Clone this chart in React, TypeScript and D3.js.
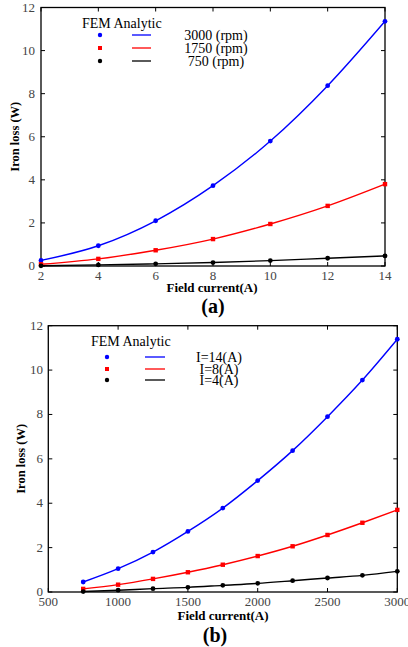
import React from 'react';
import * as d3 from 'd3';

// panel (a): iron loss vs field current at three speeds
const currentA = [2, 4, 6, 8, 10, 12, 14];
const loss3000 = [0.26, 0.94, 2.1, 3.73, 5.8, 8.37, 11.36];
const loss1750 = [0.08, 0.33, 0.73, 1.25, 1.95, 2.79, 3.8];
const loss750 = [0.01, 0.05, 0.1, 0.16, 0.25, 0.36, 0.47];
const speedLabels = ['3000 (rpm)', '1750 (rpm)', '750 (rpm)'];
const xTicksA = [2, 4, 6, 8, 10, 12, 14];

// panel (b): iron loss vs speed at three currents
const speedB = [750, 1000, 1250, 1500, 1750, 2000, 2250, 2500, 2750, 3000];
const lossI14 = [0.45, 1.05, 1.8, 2.73, 3.78, 5.02, 6.37, 7.9, 9.55, 11.39];
const lossI8 = [0.14, 0.33, 0.59, 0.89, 1.23, 1.62, 2.06, 2.57, 3.12, 3.7];
const lossI4 = [0.02, 0.08, 0.15, 0.21, 0.3, 0.39, 0.51, 0.63, 0.75, 0.93];
const currentLabels = ['I=14(A)', 'I=8(A)', 'I=4(A)'];
const xTicksB = [500, 1000, 1500, 2000, 2500, 3000];

const yTicks = [0, 2, 4, 6, 8, 10, 12];
const colors = ['#0000ff', '#ff0000', '#000000'];
const markerShapes = ['circle', 'square', 'circle'];

const font = '"Liberation Serif", "Times New Roman", serif';

type PanelProps = {
  top: number; left: number; right: number; bottom: number;
  xDomain: [number, number]; xTicks: number[];
  xs: number[]; series: number[][]; labels: string[];
  yLabelX: number; tickLabelRight: number;
  legend: { titleX: number; titleY: number; markX: number; rowY: number[]; lineX: [number, number]; textX: number };
  xTitleX: number; xTitleY: number; capX: number; capY: number; caption: string;
};

const Panel = (p: PanelProps) => {
  const x = d3.scaleLinear().domain(p.xDomain).range([p.left, p.right]);
  const y = d3.scaleLinear().domain([0, 12]).range([p.bottom, p.top]);
  const line = d3.line<number>()
    .x((_, i) => x(p.xs[i]))
    .y(d => y(d))
    .curve(d3.curveMonotoneX);
  const tk = 4;
  return (
    <g>
      {/* frame */}
      <rect x={p.left} y={p.top} width={p.right - p.left} height={p.bottom - p.top}
        fill="none" stroke="#000" strokeWidth={1.3} />
      {/* ticks all four sides, inward */}
      {p.xTicks.map(t => (
        <g key={'xt' + t}>
          <line x1={x(t)} x2={x(t)} y1={p.bottom} y2={p.bottom - tk} stroke="#000" />
          <line x1={x(t)} x2={x(t)} y1={p.top} y2={p.top + tk} stroke="#000" />
          <text x={x(t)} y={p.bottom + 13.5} textAnchor="middle" fontSize={13}
            fontFamily={font} fill="#444">{t}</text>
        </g>
      ))}
      {yTicks.map(t => (
        <g key={'yt' + t}>
          <line x1={p.left} x2={p.left + tk} y1={y(t)} y2={y(t)} stroke="#000" />
          <line x1={p.right} x2={p.right - tk} y1={y(t)} y2={y(t)} stroke="#000" />
          <text x={p.tickLabelRight} y={y(t) + 4} textAnchor="end" fontSize={13}
            fontFamily={font} fill="#444">{t}</text>
        </g>
      ))}
      {/* curves and markers */}
      {p.series.map((s, si) => (
        <g key={'s' + si}>
          <path d={line(s) || ''} fill="none" stroke={colors[si]} strokeWidth={1.4} />
          {s.map((v, i) => markerShapes[si] === 'square'
            ? <rect key={i} x={x(p.xs[i]) - 2.2} y={y(v) - 2.2} width={4.4} height={4.4} fill={colors[si]} />
            : <circle key={i} cx={x(p.xs[i])} cy={y(v)} r={2.4} fill={colors[si]} />)}
        </g>
      ))}
      {/* legend */}
      <text x={p.legend.titleX} y={p.legend.titleY} fontSize={14} fontFamily={font} fill="#000">FEM Analytic</text>
      {p.labels.map((lab, i) => (
        <g key={'lg' + i}>
          {markerShapes[i] === 'square'
            ? <rect x={p.legend.markX - 2} y={p.legend.rowY[i] - 2} width={4} height={4} fill={colors[i]} />
            : <circle cx={p.legend.markX} cy={p.legend.rowY[i]} r={2.2} fill={colors[i]} />}
          <line x1={p.legend.lineX[0]} x2={p.legend.lineX[1]} y1={p.legend.rowY[i]} y2={p.legend.rowY[i]}
            stroke={colors[i]} strokeWidth={1.3} />
          <text x={p.legend.textX} y={p.legend.rowY[i] + 4.5} textAnchor="middle" fontSize={14}
            fontFamily={font} fill="#000">{lab}</text>
        </g>
      ))}
      {/* axis titles */}
      <text transform={`translate(${p.yLabelX},${(p.top + p.bottom) / 2}) rotate(-90)`}
        textAnchor="middle" fontSize={12.5} fontWeight="bold" fontFamily={font}>Iron loss (W)</text>
      <text x={p.xTitleX} y={p.xTitleY} textAnchor="middle" fontSize={13} fontWeight="bold"
        fontFamily={font}>Field current(A)</text>
      <text x={p.capX} y={p.capY} textAnchor="middle" fontSize={20} fontWeight="bold"
        fontFamily={font}>{p.caption}</text>
    </g>
  );
};

export default function App() {
  return (
    <svg width={408} height={647} style={{ position: 'absolute', left: 0, top: 0, background: '#fff' }}>
      <rect width={408} height={647} fill="#fff" />
      <Panel top={7.5} bottom={266} left={41} right={385}
        xDomain={[2, 14]} xTicks={xTicksA} xs={currentA}
        series={[loss3000, loss1750, loss750]} labels={speedLabels}
        yLabelX={19} tickLabelRight={35}
        legend={{ titleX: 82, titleY: 28, markX: 100, rowY: [35, 48, 61], lineX: [132, 151], textX: 216 }}
        xTitleX={212} xTitleY={292} capX={213} capY={313} caption="(a)" />
      <Panel top={325.7} bottom={592} left={48.3} right={397.3}
        xDomain={[500, 3000]} xTicks={xTicksB} xs={speedB}
        series={[lossI14, lossI8, lossI4]} labels={currentLabels}
        yLabelX={25} tickLabelRight={43}
        legend={{ titleX: 91, titleY: 346, markX: 107, rowY: [357, 369, 380], lineX: [145, 165], textX: 219 }}
        xTitleX={223} xTitleY={620} capX={215} capY={642} caption="(b)" />
    </svg>
  );
}
